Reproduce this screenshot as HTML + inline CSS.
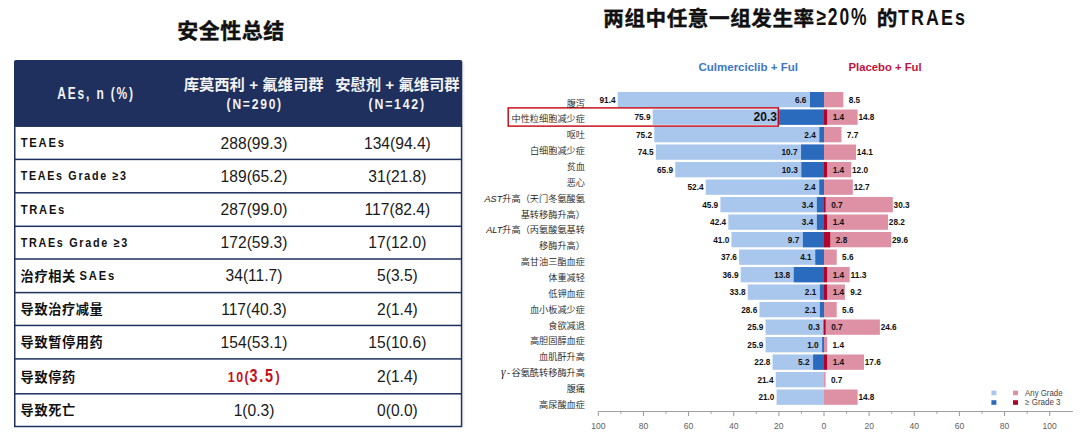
<!DOCTYPE html>
<html><head><meta charset="utf-8">
<style>
*{margin:0;padding:0}
html,body{width:1080px;height:438px;overflow:hidden;background:#fff}
body{position:relative}
</style></head><body>
<svg width="1080" height="438" viewBox="0 0 1080 438" style="position:absolute;left:0;top:0">
<path d="M14,126.8 V62 Q14,60 16,60 H460.3 Q462.3,60 462.3,62 V126.8 Z" fill="#1f305e"/>
<rect x="14.75" y="126" width="446.8" height="300.5" fill="none" stroke="#1f305e" stroke-width="1.5"/>
<rect x="14" y="158.65" width="447.6" height="1.5" fill="#1f305e"/>
<rect x="14" y="192.05" width="447.6" height="1.5" fill="#1f305e"/>
<rect x="14" y="225.55" width="447.6" height="1.5" fill="#1f305e"/>
<rect x="14" y="258.25" width="447.6" height="1.5" fill="#1f305e"/>
<rect x="14" y="291.85" width="447.6" height="1.5" fill="#1f305e"/>
<rect x="14" y="324.70" width="447.6" height="1.5" fill="#1f305e"/>
<rect x="14" y="358.15" width="447.6" height="1.5" fill="#1f305e"/>
<rect x="14" y="393.05" width="447.6" height="1.5" fill="#1f305e"/>
<rect x="462.3" y="62" width="2.2" height="364.5" fill="#000" opacity="0.05"/>
<text x="57.2" y="98.6" font-family="Liberation Sans, Arial, sans-serif" font-weight="bold" font-size="15.6" letter-spacing="2.4" fill="#f2f2f2" textLength="77.7" lengthAdjust="spacingAndGlyphs">AEs, n (%)</text>
<text x="253.6" y="90.2" text-anchor="middle" font-family="Liberation Sans, Noto Sans CJK SC, sans-serif" font-weight="bold" font-size="15.3" fill="#f2f2f2">库莫西利 + 氟维司群</text>
<text x="226.6" y="108.7" font-family="Liberation Sans, Arial, sans-serif" font-weight="bold" font-size="15" letter-spacing="2.2" fill="#f2f2f2" textLength="56.3" lengthAdjust="spacingAndGlyphs">(N=290)</text>
<text x="397.4" y="90.2" text-anchor="middle" font-family="Liberation Sans, Noto Sans CJK SC, sans-serif" font-weight="bold" font-size="15.3" fill="#f2f2f2">安慰剂 + 氟维司群</text>
<text x="368.6" y="108.7" font-family="Liberation Sans, Arial, sans-serif" font-weight="bold" font-size="15" letter-spacing="2.2" fill="#f2f2f2" textLength="57.3" lengthAdjust="spacingAndGlyphs">(N=142)</text>
<text x="20.7" y="147.10" font-family="Liberation Sans, Arial, sans-serif" font-weight="bold" font-size="12.6" letter-spacing="2.0" fill="#111" textLength="45.0" lengthAdjust="spacingAndGlyphs">TEAEs</text>
<text x="254" y="148.70" text-anchor="middle" font-family="Liberation Sans, Arial, sans-serif" font-size="15.6" fill="#1a1a1a">288(99.3)</text>
<text x="397.4" y="148.70" text-anchor="middle" font-family="Liberation Sans, Arial, sans-serif" font-size="15.6" fill="#1a1a1a">134(94.4)</text>
<text x="20.7" y="180.10" font-family="Liberation Sans, Arial, sans-serif" font-weight="bold" font-size="12.6" letter-spacing="2.0" fill="#111" textLength="107.0" lengthAdjust="spacingAndGlyphs">TEAEs Grade ≥3</text>
<text x="254" y="181.70" text-anchor="middle" font-family="Liberation Sans, Arial, sans-serif" font-size="15.6" fill="#1a1a1a">189(65.2)</text>
<text x="397.4" y="181.70" text-anchor="middle" font-family="Liberation Sans, Arial, sans-serif" font-size="15.6" fill="#1a1a1a">31(21.8)</text>
<text x="20.7" y="213.55" font-family="Liberation Sans, Arial, sans-serif" font-weight="bold" font-size="12.6" letter-spacing="2.0" fill="#111" textLength="45.400000000000006" lengthAdjust="spacingAndGlyphs">TRAEs</text>
<text x="254" y="215.15" text-anchor="middle" font-family="Liberation Sans, Arial, sans-serif" font-size="15.6" fill="#1a1a1a">287(99.0)</text>
<text x="397.4" y="215.15" text-anchor="middle" font-family="Liberation Sans, Arial, sans-serif" font-size="15.6" fill="#1a1a1a">117(82.4)</text>
<text x="20.7" y="246.65" font-family="Liberation Sans, Arial, sans-serif" font-weight="bold" font-size="12.6" letter-spacing="2.0" fill="#111" textLength="108.3" lengthAdjust="spacingAndGlyphs">TRAEs Grade ≥3</text>
<text x="254" y="248.25" text-anchor="middle" font-family="Liberation Sans, Arial, sans-serif" font-size="15.6" fill="#1a1a1a">172(59.3)</text>
<text x="397.4" y="248.25" text-anchor="middle" font-family="Liberation Sans, Arial, sans-serif" font-size="15.6" fill="#1a1a1a">17(12.0)</text>
<text x="20.6" y="281.10" font-family="Liberation Sans, Noto Sans CJK SC, sans-serif" font-weight="bold" font-size="13.2" letter-spacing="0.6" fill="#111">治疗相关</text>
<text x="79.6" y="279.80" font-family="Liberation Sans, Arial, sans-serif" font-weight="bold" font-size="12.6" letter-spacing="2.0" fill="#111" textLength="36.3" lengthAdjust="spacingAndGlyphs">SAEs</text>
<text x="254" y="281.40" text-anchor="middle" font-family="Liberation Sans, Arial, sans-serif" font-size="15.6" fill="#1a1a1a">34(11.7)</text>
<text x="397.4" y="281.40" text-anchor="middle" font-family="Liberation Sans, Arial, sans-serif" font-size="15.6" fill="#1a1a1a">5(3.5)</text>
<text x="20.6" y="314.32" font-family="Liberation Sans, Noto Sans CJK SC, sans-serif" font-weight="bold" font-size="13.2" letter-spacing="0.6" fill="#111">导致治疗减量</text>
<text x="254" y="314.62" text-anchor="middle" font-family="Liberation Sans, Arial, sans-serif" font-size="15.6" fill="#1a1a1a">117(40.3)</text>
<text x="397.4" y="314.62" text-anchor="middle" font-family="Liberation Sans, Arial, sans-serif" font-size="15.6" fill="#1a1a1a">2(1.4)</text>
<text x="20.6" y="347.47" font-family="Liberation Sans, Noto Sans CJK SC, sans-serif" font-weight="bold" font-size="13.2" letter-spacing="0.6" fill="#111">导致暂停用药</text>
<text x="254" y="347.77" text-anchor="middle" font-family="Liberation Sans, Arial, sans-serif" font-size="15.6" fill="#1a1a1a">154(53.1)</text>
<text x="397.4" y="347.77" text-anchor="middle" font-family="Liberation Sans, Arial, sans-serif" font-size="15.6" fill="#1a1a1a">15(10.6)</text>
<text x="20.6" y="381.65" font-family="Liberation Sans, Noto Sans CJK SC, sans-serif" font-weight="bold" font-size="13.2" letter-spacing="0.6" fill="#111">导致停药</text>
<text x="227.7" y="381.7" font-family="Liberation Sans, Arial, sans-serif" font-weight="bold" fill="#c4101c" lengthAdjust="spacingAndGlyphs" font-size="14.8" letter-spacing="2" textLength="17.1">10</text>
<text x="244.6" y="382.2" font-family="Liberation Sans, Arial, sans-serif" font-weight="bold" fill="#c4101c" lengthAdjust="spacingAndGlyphs" font-size="15" textLength="4.2">(</text>
<text x="249.5" y="381.7" font-family="Liberation Sans, Arial, sans-serif" font-weight="bold" fill="#c4101c" lengthAdjust="spacingAndGlyphs" font-size="17.5" letter-spacing="2.2" textLength="25.4">3.5</text>
<text x="275.6" y="382.2" font-family="Liberation Sans, Arial, sans-serif" font-weight="bold" fill="#c4101c" lengthAdjust="spacingAndGlyphs" font-size="15" textLength="4.2">)</text>
<text x="397.4" y="381.95" text-anchor="middle" font-family="Liberation Sans, Arial, sans-serif" font-size="15.6" fill="#1a1a1a">2(1.4)</text>
<text x="20.6" y="415.45" font-family="Liberation Sans, Noto Sans CJK SC, sans-serif" font-weight="bold" font-size="13.2" letter-spacing="0.6" fill="#111">导致死亡</text>
<text x="254" y="415.75" text-anchor="middle" font-family="Liberation Sans, Arial, sans-serif" font-size="15.6" fill="#1a1a1a">1(0.3)</text>
<text x="397.4" y="415.75" text-anchor="middle" font-family="Liberation Sans, Arial, sans-serif" font-size="15.6" fill="#1a1a1a">0(0.0)</text>
<text x="177.2" y="38.1" font-family="Noto Sans CJK SC, sans-serif" font-weight="bold" stroke="#111" stroke-width="0.4" font-size="21" letter-spacing="0.5" fill="#111">安全性总结</text>
<text x="603.3" y="26.3" font-family="Noto Sans CJK SC, sans-serif" font-weight="bold" stroke="#111" stroke-width="0.4" font-size="20.6" letter-spacing="0.55" fill="#111">两组中任意一组发生率</text>
<text x="816.4" y="24.5" font-family="Liberation Sans, Arial, sans-serif" font-weight="bold" font-size="23.2" letter-spacing="2.5" fill="#111" textLength="52" lengthAdjust="spacingAndGlyphs">≥20%</text>
<text x="876.8" y="26.3" font-family="Noto Sans CJK SC, sans-serif" font-weight="bold" stroke="#111" stroke-width="0.4" font-size="20.6" fill="#111">的</text>
<text x="898" y="24.7" font-family="Liberation Sans, Arial, sans-serif" font-weight="bold" font-size="21.8" letter-spacing="2.5" fill="#111" textLength="69" lengthAdjust="spacingAndGlyphs">TRAEs</text>
<rect x="617.71" y="92.00" width="206.29" height="15.3" fill="#a9c6ec"/>
<rect x="810.00" y="92.00" width="14.00" height="15.3" fill="#2a6bbd"/>
<rect x="824.00" y="92.00" width="19.31" height="15.3" fill="#de91a5"/>
<rect x="652.69" y="109.50" width="171.31" height="15.3" fill="#a9c6ec"/>
<rect x="779.10" y="109.50" width="44.90" height="15.3" fill="#2a6bbd"/>
<rect x="824.00" y="109.50" width="33.63" height="15.3" fill="#de91a5"/>
<rect x="824.00" y="109.50" width="3.10" height="15.3" fill="#b0052b"/>
<rect x="654.27" y="127.00" width="169.73" height="15.3" fill="#a9c6ec"/>
<rect x="819.40" y="127.00" width="4.60" height="15.3" fill="#2a6bbd"/>
<rect x="824.00" y="127.00" width="17.49" height="15.3" fill="#de91a5"/>
<rect x="655.85" y="144.50" width="168.15" height="15.3" fill="#a9c6ec"/>
<rect x="801.10" y="144.50" width="22.90" height="15.3" fill="#2a6bbd"/>
<rect x="824.00" y="144.50" width="32.04" height="15.3" fill="#de91a5"/>
<rect x="675.26" y="162.00" width="148.74" height="15.3" fill="#a9c6ec"/>
<rect x="801.40" y="162.00" width="22.60" height="15.3" fill="#2a6bbd"/>
<rect x="824.00" y="162.00" width="27.26" height="15.3" fill="#de91a5"/>
<rect x="824.00" y="162.00" width="3.10" height="15.3" fill="#b0052b"/>
<rect x="705.73" y="179.50" width="118.27" height="15.3" fill="#a9c6ec"/>
<rect x="819.30" y="179.50" width="4.70" height="15.3" fill="#2a6bbd"/>
<rect x="824.00" y="179.50" width="28.85" height="15.3" fill="#de91a5"/>
<rect x="720.40" y="197.00" width="103.60" height="15.3" fill="#a9c6ec"/>
<rect x="816.90" y="197.00" width="7.10" height="15.3" fill="#2a6bbd"/>
<rect x="824.00" y="197.00" width="68.84" height="15.3" fill="#de91a5"/>
<rect x="824.00" y="197.00" width="1.60" height="15.3" fill="#b0052b"/>
<rect x="728.30" y="214.50" width="95.70" height="15.3" fill="#a9c6ec"/>
<rect x="816.90" y="214.50" width="7.10" height="15.3" fill="#2a6bbd"/>
<rect x="824.00" y="214.50" width="64.07" height="15.3" fill="#de91a5"/>
<rect x="824.00" y="214.50" width="3.10" height="15.3" fill="#b0052b"/>
<rect x="731.46" y="232.00" width="92.54" height="15.3" fill="#a9c6ec"/>
<rect x="802.90" y="232.00" width="21.10" height="15.3" fill="#2a6bbd"/>
<rect x="824.00" y="232.00" width="67.25" height="15.3" fill="#de91a5"/>
<rect x="824.00" y="232.00" width="6.20" height="15.3" fill="#b0052b"/>
<rect x="739.14" y="249.50" width="84.86" height="15.3" fill="#a9c6ec"/>
<rect x="815.30" y="249.50" width="8.70" height="15.3" fill="#2a6bbd"/>
<rect x="824.00" y="249.50" width="12.72" height="15.3" fill="#de91a5"/>
<rect x="740.72" y="267.00" width="83.28" height="15.3" fill="#a9c6ec"/>
<rect x="793.80" y="267.00" width="30.20" height="15.3" fill="#2a6bbd"/>
<rect x="824.00" y="267.00" width="25.67" height="15.3" fill="#de91a5"/>
<rect x="824.00" y="267.00" width="3.10" height="15.3" fill="#b0052b"/>
<rect x="747.71" y="284.50" width="76.29" height="15.3" fill="#a9c6ec"/>
<rect x="819.90" y="284.50" width="4.10" height="15.3" fill="#2a6bbd"/>
<rect x="824.00" y="284.50" width="20.90" height="15.3" fill="#de91a5"/>
<rect x="824.00" y="284.50" width="3.10" height="15.3" fill="#b0052b"/>
<rect x="759.45" y="302.00" width="64.55" height="15.3" fill="#a9c6ec"/>
<rect x="819.90" y="302.00" width="4.10" height="15.3" fill="#2a6bbd"/>
<rect x="824.00" y="302.00" width="12.72" height="15.3" fill="#de91a5"/>
<rect x="765.54" y="319.50" width="58.46" height="15.3" fill="#a9c6ec"/>
<rect x="823.40" y="319.50" width="0.60" height="15.3" fill="#2a6bbd"/>
<rect x="824.00" y="319.50" width="55.89" height="15.3" fill="#de91a5"/>
<rect x="824.00" y="319.50" width="1.60" height="15.3" fill="#b0052b"/>
<rect x="765.54" y="337.00" width="58.46" height="15.3" fill="#a9c6ec"/>
<rect x="822.20" y="337.00" width="1.80" height="15.3" fill="#2a6bbd"/>
<rect x="824.00" y="337.00" width="3.18" height="15.3" fill="#de91a5"/>
<rect x="772.54" y="354.50" width="51.46" height="15.3" fill="#a9c6ec"/>
<rect x="813.10" y="354.50" width="10.90" height="15.3" fill="#2a6bbd"/>
<rect x="824.00" y="354.50" width="39.99" height="15.3" fill="#de91a5"/>
<rect x="824.00" y="354.50" width="3.10" height="15.3" fill="#b0052b"/>
<rect x="775.70" y="372.00" width="48.30" height="15.3" fill="#a9c6ec"/>
<rect x="824.00" y="372.00" width="1.59" height="15.3" fill="#de91a5"/>
<rect x="776.60" y="389.50" width="47.40" height="15.3" fill="#a9c6ec"/>
<rect x="824.00" y="389.50" width="33.63" height="15.3" fill="#de91a5"/>
<line x1="598" y1="411.5" x2="1073" y2="411.5" stroke="#a0a0a0" stroke-width="1.1"/>
<line x1="598.30" y1="411.5" x2="598.30" y2="416.0" stroke="#a0a0a0" stroke-width="1.1"/>
<line x1="620.87" y1="411.5" x2="620.87" y2="413.7" stroke="#a0a0a0" stroke-width="1.1"/>
<line x1="643.44" y1="411.5" x2="643.44" y2="416.0" stroke="#a0a0a0" stroke-width="1.1"/>
<line x1="666.01" y1="411.5" x2="666.01" y2="413.7" stroke="#a0a0a0" stroke-width="1.1"/>
<line x1="688.58" y1="411.5" x2="688.58" y2="416.0" stroke="#a0a0a0" stroke-width="1.1"/>
<line x1="711.15" y1="411.5" x2="711.15" y2="413.7" stroke="#a0a0a0" stroke-width="1.1"/>
<line x1="733.72" y1="411.5" x2="733.72" y2="416.0" stroke="#a0a0a0" stroke-width="1.1"/>
<line x1="756.29" y1="411.5" x2="756.29" y2="413.7" stroke="#a0a0a0" stroke-width="1.1"/>
<line x1="778.86" y1="411.5" x2="778.86" y2="416.0" stroke="#a0a0a0" stroke-width="1.1"/>
<line x1="801.43" y1="411.5" x2="801.43" y2="413.7" stroke="#a0a0a0" stroke-width="1.1"/>
<line x1="824.00" y1="411.5" x2="824.00" y2="416.0" stroke="#a0a0a0" stroke-width="1.1"/>
<line x1="846.57" y1="411.5" x2="846.57" y2="413.7" stroke="#a0a0a0" stroke-width="1.1"/>
<line x1="869.14" y1="411.5" x2="869.14" y2="416.0" stroke="#a0a0a0" stroke-width="1.1"/>
<line x1="891.71" y1="411.5" x2="891.71" y2="413.7" stroke="#a0a0a0" stroke-width="1.1"/>
<line x1="914.28" y1="411.5" x2="914.28" y2="416.0" stroke="#a0a0a0" stroke-width="1.1"/>
<line x1="936.85" y1="411.5" x2="936.85" y2="413.7" stroke="#a0a0a0" stroke-width="1.1"/>
<line x1="959.42" y1="411.5" x2="959.42" y2="416.0" stroke="#a0a0a0" stroke-width="1.1"/>
<line x1="981.99" y1="411.5" x2="981.99" y2="413.7" stroke="#a0a0a0" stroke-width="1.1"/>
<line x1="1004.56" y1="411.5" x2="1004.56" y2="416.0" stroke="#a0a0a0" stroke-width="1.1"/>
<line x1="1027.13" y1="411.5" x2="1027.13" y2="413.7" stroke="#a0a0a0" stroke-width="1.1"/>
<line x1="1049.70" y1="411.5" x2="1049.70" y2="416.0" stroke="#a0a0a0" stroke-width="1.1"/>
<rect x="508.2" y="107.9" width="270.1" height="18.2" fill="none" stroke="#c2000e" stroke-width="1.4"/>
<rect x="991.4" y="390.6" width="5" height="4.6" fill="#a9c6ec"/>
<rect x="1013" y="390.6" width="5" height="4.6" fill="#de91a5"/>
<rect x="991.4" y="400.2" width="5" height="4.6" fill="#2a6bbd"/>
<rect x="1013" y="400.2" width="5" height="4.6" fill="#b0052b"/>
<text x="615.51" y="102.75" text-anchor="end" font-family="Liberation Sans, Arial, sans-serif" font-weight="bold" font-size="8.9" fill="#111" lengthAdjust="spacingAndGlyphs" textLength="16.02">91.4</text>
<text x="806.40" y="102.75" text-anchor="end" font-family="Liberation Sans, Arial, sans-serif" font-weight="bold" font-size="8.9" fill="#111" lengthAdjust="spacingAndGlyphs" textLength="11.44">6.6</text>
<text x="860.11" y="102.75" text-anchor="end" font-family="Liberation Sans, Arial, sans-serif" font-weight="bold" font-size="8.9" fill="#111" lengthAdjust="spacingAndGlyphs" textLength="11.44">8.5</text>
<text x="650.49" y="120.25" text-anchor="end" font-family="Liberation Sans, Arial, sans-serif" font-weight="bold" font-size="8.9" fill="#111" lengthAdjust="spacingAndGlyphs" textLength="16.02">75.9</text>
<text x="776.90" y="121.15" text-anchor="end" font-family="Liberation Sans, Arial, sans-serif" font-weight="bold" font-size="12" fill="#111">20.3</text>
<text x="832.70" y="120.25" font-family="Liberation Sans, Arial, sans-serif" font-weight="bold" font-size="8.9" fill="#111" lengthAdjust="spacingAndGlyphs" textLength="11.44">1.4</text>
<text x="874.43" y="120.25" text-anchor="end" font-family="Liberation Sans, Arial, sans-serif" font-weight="bold" font-size="8.9" fill="#111" lengthAdjust="spacingAndGlyphs" textLength="16.02">14.8</text>
<text x="652.07" y="137.75" text-anchor="end" font-family="Liberation Sans, Arial, sans-serif" font-weight="bold" font-size="8.9" fill="#111" lengthAdjust="spacingAndGlyphs" textLength="16.02">75.2</text>
<text x="815.80" y="137.75" text-anchor="end" font-family="Liberation Sans, Arial, sans-serif" font-weight="bold" font-size="8.9" fill="#111" lengthAdjust="spacingAndGlyphs" textLength="11.44">2.4</text>
<text x="858.29" y="137.75" text-anchor="end" font-family="Liberation Sans, Arial, sans-serif" font-weight="bold" font-size="8.9" fill="#111" lengthAdjust="spacingAndGlyphs" textLength="11.44">7.7</text>
<text x="653.65" y="155.25" text-anchor="end" font-family="Liberation Sans, Arial, sans-serif" font-weight="bold" font-size="8.9" fill="#111" lengthAdjust="spacingAndGlyphs" textLength="16.02">74.5</text>
<text x="797.50" y="155.25" text-anchor="end" font-family="Liberation Sans, Arial, sans-serif" font-weight="bold" font-size="8.9" fill="#111" lengthAdjust="spacingAndGlyphs" textLength="16.02">10.7</text>
<text x="872.84" y="155.25" text-anchor="end" font-family="Liberation Sans, Arial, sans-serif" font-weight="bold" font-size="8.9" fill="#111" lengthAdjust="spacingAndGlyphs" textLength="16.02">14.1</text>
<text x="673.06" y="172.75" text-anchor="end" font-family="Liberation Sans, Arial, sans-serif" font-weight="bold" font-size="8.9" fill="#111" lengthAdjust="spacingAndGlyphs" textLength="16.02">65.9</text>
<text x="797.80" y="172.75" text-anchor="end" font-family="Liberation Sans, Arial, sans-serif" font-weight="bold" font-size="8.9" fill="#111" lengthAdjust="spacingAndGlyphs" textLength="16.02">10.3</text>
<text x="832.70" y="172.75" font-family="Liberation Sans, Arial, sans-serif" font-weight="bold" font-size="8.9" fill="#111" lengthAdjust="spacingAndGlyphs" textLength="11.44">1.4</text>
<text x="868.06" y="172.75" text-anchor="end" font-family="Liberation Sans, Arial, sans-serif" font-weight="bold" font-size="8.9" fill="#111" lengthAdjust="spacingAndGlyphs" textLength="16.02">12.0</text>
<text x="703.53" y="190.25" text-anchor="end" font-family="Liberation Sans, Arial, sans-serif" font-weight="bold" font-size="8.9" fill="#111" lengthAdjust="spacingAndGlyphs" textLength="16.02">52.4</text>
<text x="815.70" y="190.25" text-anchor="end" font-family="Liberation Sans, Arial, sans-serif" font-weight="bold" font-size="8.9" fill="#111" lengthAdjust="spacingAndGlyphs" textLength="11.44">2.4</text>
<text x="869.65" y="190.25" text-anchor="end" font-family="Liberation Sans, Arial, sans-serif" font-weight="bold" font-size="8.9" fill="#111" lengthAdjust="spacingAndGlyphs" textLength="16.02">12.7</text>
<text x="718.20" y="207.75" text-anchor="end" font-family="Liberation Sans, Arial, sans-serif" font-weight="bold" font-size="8.9" fill="#111" lengthAdjust="spacingAndGlyphs" textLength="16.02">45.9</text>
<text x="813.30" y="207.75" text-anchor="end" font-family="Liberation Sans, Arial, sans-serif" font-weight="bold" font-size="8.9" fill="#111" lengthAdjust="spacingAndGlyphs" textLength="11.44">3.4</text>
<text x="831.20" y="207.75" font-family="Liberation Sans, Arial, sans-serif" font-weight="bold" font-size="8.9" fill="#111" lengthAdjust="spacingAndGlyphs" textLength="11.44">0.7</text>
<text x="909.64" y="207.75" text-anchor="end" font-family="Liberation Sans, Arial, sans-serif" font-weight="bold" font-size="8.9" fill="#111" lengthAdjust="spacingAndGlyphs" textLength="16.02">30.3</text>
<text x="726.10" y="225.25" text-anchor="end" font-family="Liberation Sans, Arial, sans-serif" font-weight="bold" font-size="8.9" fill="#111" lengthAdjust="spacingAndGlyphs" textLength="16.02">42.4</text>
<text x="813.30" y="225.25" text-anchor="end" font-family="Liberation Sans, Arial, sans-serif" font-weight="bold" font-size="8.9" fill="#111" lengthAdjust="spacingAndGlyphs" textLength="11.44">3.4</text>
<text x="832.70" y="225.25" font-family="Liberation Sans, Arial, sans-serif" font-weight="bold" font-size="8.9" fill="#111" lengthAdjust="spacingAndGlyphs" textLength="11.44">1.4</text>
<text x="904.87" y="225.25" text-anchor="end" font-family="Liberation Sans, Arial, sans-serif" font-weight="bold" font-size="8.9" fill="#111" lengthAdjust="spacingAndGlyphs" textLength="16.02">28.2</text>
<text x="729.26" y="242.75" text-anchor="end" font-family="Liberation Sans, Arial, sans-serif" font-weight="bold" font-size="8.9" fill="#111" lengthAdjust="spacingAndGlyphs" textLength="16.02">41.0</text>
<text x="799.30" y="242.75" text-anchor="end" font-family="Liberation Sans, Arial, sans-serif" font-weight="bold" font-size="8.9" fill="#111" lengthAdjust="spacingAndGlyphs" textLength="11.44">9.7</text>
<text x="835.80" y="242.75" font-family="Liberation Sans, Arial, sans-serif" font-weight="bold" font-size="8.9" fill="#111" lengthAdjust="spacingAndGlyphs" textLength="11.44">2.8</text>
<text x="908.05" y="242.75" text-anchor="end" font-family="Liberation Sans, Arial, sans-serif" font-weight="bold" font-size="8.9" fill="#111" lengthAdjust="spacingAndGlyphs" textLength="16.02">29.6</text>
<text x="736.94" y="260.25" text-anchor="end" font-family="Liberation Sans, Arial, sans-serif" font-weight="bold" font-size="8.9" fill="#111" lengthAdjust="spacingAndGlyphs" textLength="16.02">37.6</text>
<text x="811.70" y="260.25" text-anchor="end" font-family="Liberation Sans, Arial, sans-serif" font-weight="bold" font-size="8.9" fill="#111" lengthAdjust="spacingAndGlyphs" textLength="11.44">4.1</text>
<text x="853.52" y="260.25" text-anchor="end" font-family="Liberation Sans, Arial, sans-serif" font-weight="bold" font-size="8.9" fill="#111" lengthAdjust="spacingAndGlyphs" textLength="11.44">5.6</text>
<text x="738.52" y="277.75" text-anchor="end" font-family="Liberation Sans, Arial, sans-serif" font-weight="bold" font-size="8.9" fill="#111" lengthAdjust="spacingAndGlyphs" textLength="16.02">36.9</text>
<text x="790.20" y="277.75" text-anchor="end" font-family="Liberation Sans, Arial, sans-serif" font-weight="bold" font-size="8.9" fill="#111" lengthAdjust="spacingAndGlyphs" textLength="16.02">13.8</text>
<text x="832.70" y="277.75" font-family="Liberation Sans, Arial, sans-serif" font-weight="bold" font-size="8.9" fill="#111" lengthAdjust="spacingAndGlyphs" textLength="11.44">1.4</text>
<text x="866.47" y="277.75" text-anchor="end" font-family="Liberation Sans, Arial, sans-serif" font-weight="bold" font-size="8.9" fill="#111" lengthAdjust="spacingAndGlyphs" textLength="16.02">11.3</text>
<text x="745.51" y="295.25" text-anchor="end" font-family="Liberation Sans, Arial, sans-serif" font-weight="bold" font-size="8.9" fill="#111" lengthAdjust="spacingAndGlyphs" textLength="16.02">33.8</text>
<text x="816.30" y="295.25" text-anchor="end" font-family="Liberation Sans, Arial, sans-serif" font-weight="bold" font-size="8.9" fill="#111" lengthAdjust="spacingAndGlyphs" textLength="11.44">2.1</text>
<text x="832.70" y="295.25" font-family="Liberation Sans, Arial, sans-serif" font-weight="bold" font-size="8.9" fill="#111" lengthAdjust="spacingAndGlyphs" textLength="11.44">1.4</text>
<text x="861.70" y="295.25" text-anchor="end" font-family="Liberation Sans, Arial, sans-serif" font-weight="bold" font-size="8.9" fill="#111" lengthAdjust="spacingAndGlyphs" textLength="11.44">9.2</text>
<text x="757.25" y="312.75" text-anchor="end" font-family="Liberation Sans, Arial, sans-serif" font-weight="bold" font-size="8.9" fill="#111" lengthAdjust="spacingAndGlyphs" textLength="16.02">28.6</text>
<text x="816.30" y="312.75" text-anchor="end" font-family="Liberation Sans, Arial, sans-serif" font-weight="bold" font-size="8.9" fill="#111" lengthAdjust="spacingAndGlyphs" textLength="11.44">2.1</text>
<text x="853.52" y="312.75" text-anchor="end" font-family="Liberation Sans, Arial, sans-serif" font-weight="bold" font-size="8.9" fill="#111" lengthAdjust="spacingAndGlyphs" textLength="11.44">5.6</text>
<text x="763.34" y="330.25" text-anchor="end" font-family="Liberation Sans, Arial, sans-serif" font-weight="bold" font-size="8.9" fill="#111" lengthAdjust="spacingAndGlyphs" textLength="16.02">25.9</text>
<text x="819.80" y="330.25" text-anchor="end" font-family="Liberation Sans, Arial, sans-serif" font-weight="bold" font-size="8.9" fill="#111" lengthAdjust="spacingAndGlyphs" textLength="11.44">0.3</text>
<text x="831.20" y="330.25" font-family="Liberation Sans, Arial, sans-serif" font-weight="bold" font-size="8.9" fill="#111" lengthAdjust="spacingAndGlyphs" textLength="11.44">0.7</text>
<text x="896.69" y="330.25" text-anchor="end" font-family="Liberation Sans, Arial, sans-serif" font-weight="bold" font-size="8.9" fill="#111" lengthAdjust="spacingAndGlyphs" textLength="16.02">24.6</text>
<text x="763.34" y="347.75" text-anchor="end" font-family="Liberation Sans, Arial, sans-serif" font-weight="bold" font-size="8.9" fill="#111" lengthAdjust="spacingAndGlyphs" textLength="16.02">25.9</text>
<text x="818.60" y="347.75" text-anchor="end" font-family="Liberation Sans, Arial, sans-serif" font-weight="bold" font-size="8.9" fill="#111" lengthAdjust="spacingAndGlyphs" textLength="11.44">1.0</text>
<text x="843.98" y="347.75" text-anchor="end" font-family="Liberation Sans, Arial, sans-serif" font-weight="bold" font-size="8.9" fill="#111" lengthAdjust="spacingAndGlyphs" textLength="11.44">1.4</text>
<text x="770.34" y="365.25" text-anchor="end" font-family="Liberation Sans, Arial, sans-serif" font-weight="bold" font-size="8.9" fill="#111" lengthAdjust="spacingAndGlyphs" textLength="16.02">22.8</text>
<text x="809.50" y="365.25" text-anchor="end" font-family="Liberation Sans, Arial, sans-serif" font-weight="bold" font-size="8.9" fill="#111" lengthAdjust="spacingAndGlyphs" textLength="11.44">5.2</text>
<text x="832.70" y="365.25" font-family="Liberation Sans, Arial, sans-serif" font-weight="bold" font-size="8.9" fill="#111" lengthAdjust="spacingAndGlyphs" textLength="11.44">1.4</text>
<text x="880.79" y="365.25" text-anchor="end" font-family="Liberation Sans, Arial, sans-serif" font-weight="bold" font-size="8.9" fill="#111" lengthAdjust="spacingAndGlyphs" textLength="16.02">17.6</text>
<text x="773.50" y="382.75" text-anchor="end" font-family="Liberation Sans, Arial, sans-serif" font-weight="bold" font-size="8.9" fill="#111" lengthAdjust="spacingAndGlyphs" textLength="16.02">21.4</text>
<text x="842.39" y="382.75" text-anchor="end" font-family="Liberation Sans, Arial, sans-serif" font-weight="bold" font-size="8.9" fill="#111" lengthAdjust="spacingAndGlyphs" textLength="11.44">0.7</text>
<text x="774.40" y="400.25" text-anchor="end" font-family="Liberation Sans, Arial, sans-serif" font-weight="bold" font-size="8.9" fill="#111" lengthAdjust="spacingAndGlyphs" textLength="16.02">21.0</text>
<text x="874.43" y="400.25" text-anchor="end" font-family="Liberation Sans, Arial, sans-serif" font-weight="bold" font-size="8.9" fill="#111" lengthAdjust="spacingAndGlyphs" textLength="16.02">14.8</text>
<text x="598.30" y="428.8" text-anchor="middle" font-family="Liberation Sans, Arial, sans-serif" font-size="9.9" fill="#5e5e5e" textLength="14.2" lengthAdjust="spacingAndGlyphs">100</text>
<text x="643.44" y="428.8" text-anchor="middle" font-family="Liberation Sans, Arial, sans-serif" font-size="9.9" fill="#5e5e5e" textLength="9.5" lengthAdjust="spacingAndGlyphs">80</text>
<text x="688.58" y="428.8" text-anchor="middle" font-family="Liberation Sans, Arial, sans-serif" font-size="9.9" fill="#5e5e5e" textLength="9.5" lengthAdjust="spacingAndGlyphs">60</text>
<text x="733.72" y="428.8" text-anchor="middle" font-family="Liberation Sans, Arial, sans-serif" font-size="9.9" fill="#5e5e5e" textLength="9.5" lengthAdjust="spacingAndGlyphs">40</text>
<text x="778.86" y="428.8" text-anchor="middle" font-family="Liberation Sans, Arial, sans-serif" font-size="9.9" fill="#5e5e5e" textLength="9.5" lengthAdjust="spacingAndGlyphs">20</text>
<text x="824.00" y="428.8" text-anchor="middle" font-family="Liberation Sans, Arial, sans-serif" font-size="9.9" fill="#5e5e5e" textLength="4.8" lengthAdjust="spacingAndGlyphs">0</text>
<text x="869.14" y="428.8" text-anchor="middle" font-family="Liberation Sans, Arial, sans-serif" font-size="9.9" fill="#5e5e5e" textLength="9.5" lengthAdjust="spacingAndGlyphs">20</text>
<text x="914.28" y="428.8" text-anchor="middle" font-family="Liberation Sans, Arial, sans-serif" font-size="9.9" fill="#5e5e5e" textLength="9.5" lengthAdjust="spacingAndGlyphs">40</text>
<text x="959.42" y="428.8" text-anchor="middle" font-family="Liberation Sans, Arial, sans-serif" font-size="9.9" fill="#5e5e5e" textLength="9.5" lengthAdjust="spacingAndGlyphs">60</text>
<text x="1004.56" y="428.8" text-anchor="middle" font-family="Liberation Sans, Arial, sans-serif" font-size="9.9" fill="#5e5e5e" textLength="9.5" lengthAdjust="spacingAndGlyphs">80</text>
<text x="1049.70" y="428.8" text-anchor="middle" font-family="Liberation Sans, Arial, sans-serif" font-size="9.9" fill="#5e5e5e" textLength="14.2" lengthAdjust="spacingAndGlyphs">100</text>
<text x="585" y="106.60" text-anchor="end" font-family="Liberation Sans, Noto Sans CJK SC, sans-serif" font-weight="350" font-size="9.2" fill="#1a1a1a">腹泻</text>
<text x="585" y="122.45" text-anchor="end" font-family="Liberation Sans, Noto Sans CJK SC, sans-serif" font-weight="350" font-size="9.2" fill="#1a1a1a">中性粒细胞减少症</text>
<text x="585" y="138.30" text-anchor="end" font-family="Liberation Sans, Noto Sans CJK SC, sans-serif" font-weight="350" font-size="9.2" fill="#1a1a1a">呕吐</text>
<text x="585" y="154.15" text-anchor="end" font-family="Liberation Sans, Noto Sans CJK SC, sans-serif" font-weight="350" font-size="9.2" fill="#1a1a1a">白细胞减少症</text>
<text x="585" y="170.00" text-anchor="end" font-family="Liberation Sans, Noto Sans CJK SC, sans-serif" font-weight="350" font-size="9.2" fill="#1a1a1a">贫血</text>
<text x="585" y="185.85" text-anchor="end" font-family="Liberation Sans, Noto Sans CJK SC, sans-serif" font-weight="350" font-size="9.2" fill="#1a1a1a">恶心</text>
<text x="585" y="201.70" text-anchor="end" font-family="Liberation Sans, Noto Sans CJK SC, sans-serif" font-weight="350" font-size="9.2" fill="#1a1a1a"><tspan font-style="italic" font-family="Liberation Sans, sans-serif">AST</tspan>升高（天门冬氨酸氨</text>
<text x="585" y="217.55" text-anchor="end" font-family="Liberation Sans, Noto Sans CJK SC, sans-serif" font-weight="350" font-size="9.2" fill="#1a1a1a">基转移酶升高）</text>
<text x="585" y="233.40" text-anchor="end" font-family="Liberation Sans, Noto Sans CJK SC, sans-serif" font-weight="350" font-size="9.2" fill="#1a1a1a"><tspan font-style="italic" font-family="Liberation Sans, sans-serif">ALT</tspan>升高（丙氨酸氨基转</text>
<text x="585" y="249.25" text-anchor="end" font-family="Liberation Sans, Noto Sans CJK SC, sans-serif" font-weight="350" font-size="9.2" fill="#1a1a1a">移酶升高）</text>
<text x="585" y="265.10" text-anchor="end" font-family="Liberation Sans, Noto Sans CJK SC, sans-serif" font-weight="350" font-size="9.2" fill="#1a1a1a">高甘油三酯血症</text>
<text x="585" y="280.95" text-anchor="end" font-family="Liberation Sans, Noto Sans CJK SC, sans-serif" font-weight="350" font-size="9.2" fill="#1a1a1a">体重减轻</text>
<text x="585" y="296.80" text-anchor="end" font-family="Liberation Sans, Noto Sans CJK SC, sans-serif" font-weight="350" font-size="9.2" fill="#1a1a1a">低钾血症</text>
<text x="585" y="312.65" text-anchor="end" font-family="Liberation Sans, Noto Sans CJK SC, sans-serif" font-weight="350" font-size="9.2" fill="#1a1a1a">血小板减少症</text>
<text x="585" y="328.50" text-anchor="end" font-family="Liberation Sans, Noto Sans CJK SC, sans-serif" font-weight="350" font-size="9.2" fill="#1a1a1a">食欲减退</text>
<text x="585" y="344.35" text-anchor="end" font-family="Liberation Sans, Noto Sans CJK SC, sans-serif" font-weight="350" font-size="9.2" fill="#1a1a1a">高胆固醇血症</text>
<text x="585" y="360.20" text-anchor="end" font-family="Liberation Sans, Noto Sans CJK SC, sans-serif" font-weight="350" font-size="9.2" fill="#1a1a1a">血肌酐升高</text>
<text x="585" y="376.05" text-anchor="end" font-family="Liberation Sans, Noto Sans CJK SC, sans-serif" font-weight="350" font-size="9.2" fill="#1a1a1a"><tspan font-style="italic" font-family="Liberation Serif, serif" font-size="11.5">γ</tspan><tspan dx="1.5">-</tspan><tspan dx="1.5">谷</tspan>氨酰转移酶升高</text>
<text x="585" y="391.90" text-anchor="end" font-family="Liberation Sans, Noto Sans CJK SC, sans-serif" font-weight="350" font-size="9.2" fill="#1a1a1a">腹痛</text>
<text x="585" y="407.75" text-anchor="end" font-family="Liberation Sans, Noto Sans CJK SC, sans-serif" font-weight="350" font-size="9.2" fill="#1a1a1a">高尿酸血症</text>
<text x="1025.1" y="395.9" font-family="Liberation Sans, Arial, sans-serif" font-size="8.6" fill="#444" textLength="37.4" lengthAdjust="spacingAndGlyphs">Any Grade</text>
<text x="1025.1" y="405.3" font-family="Liberation Sans, Arial, sans-serif" font-size="8.6" fill="#444" textLength="35.4" lengthAdjust="spacingAndGlyphs">≥ Grade 3</text>
<text x="698.5" y="71" font-family="Liberation Sans, Arial, sans-serif" font-weight="bold" font-size="11.5" fill="#3b78c6">Culmerciclib + Ful</text>
<text x="848.5" y="71" font-family="Liberation Sans, Arial, sans-serif" font-weight="bold" font-size="11.3" fill="#c0143c">Placebo + Ful</text>
</svg>
</body></html>
